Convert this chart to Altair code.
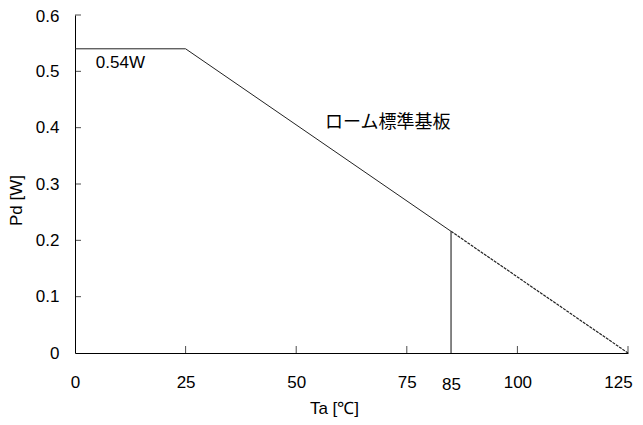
import altair as alt
import pandas as pd

# Derating curve
solid_x = [0, 25, 85]
solid_y = [0.54, 0.54, 0.216]
dash_x = [85, 125]
dash_y = [0.216, 0.0]
vline_x = [85]
vline_y = [0.216]

x_ticks = [25, 50, 75, 100, 125]
x_labels = [0, 25, 50, 75, 85, 100, 125]
y_ticks = [0.1, 0.2, 0.3, 0.4, 0.5, 0.6]
y_labels = [0, 0.1, 0.2, 0.3, 0.4, 0.5, 0.6]

ann_text = ["0.54W", "ローム標準基板"]
ann_x = [4.7, 56.5]
ann_y = [0.506, 0.408]

FONT = "Liberation Sans"
CJK = "Noto Sans CJK JP"
FS = 17

xs = alt.Scale(domain=[0, 125], nice=False, zero=False)
ys = alt.Scale(domain=[0, 0.6], nice=False)

solid = pd.DataFrame({"x": solid_x, "y": solid_y})
dash = pd.DataFrame({"x": dash_x, "y": dash_y})
vline = pd.DataFrame({"x": vline_x, "y": vline_y, "y0": [0.0]})
xt = pd.DataFrame({"x": x_ticks, "y": [0.0] * len(x_ticks)})
yt = pd.DataFrame({"x": [0.0] * len(y_ticks), "y": y_ticks})

xaxis = alt.Axis(
    values=x_labels, ticks=False, grid=False, domainColor="#000", domainWidth=1,
    labelFont=FONT, labelFontSize=FS, labelColor="#000",
    labelPadding=alt.ExprRef(expr="datum.value == 85 ? 31 : 29"),
    labelOffset=alt.ExprRef(expr="datum.value == 125 ? -10 : 0"),
    labelAngle=0, labelBaseline="middle", labelFlush=False, labelOverlap=False,
    title="Ta [℃]", titleFont=FONT, titleFontSize=FS, titleFontWeight="normal",
    titleColor="#000", titleX=259, titleY=55, titleBaseline="middle", titleAlign="center",
)
yaxis = alt.Axis(
    values=y_labels, ticks=False, grid=False,
    domainColor="#000", domainWidth=1,
    labelFont=FONT, labelFontSize=FS, labelColor="#000", labelPadding=16,
    labelFlush=False, labelOverlap=False,
    labelOffset=alt.ExprRef(expr="datum.value == 0.6 ? 1 : 0"),
    format="~g",
    title="Pd [W]", titleFont=FONT, titleFontSize=FS, titleFontWeight="normal",
    titleColor="#000", titleX=-59, titleY=185, titleAngle=270,
    titleBaseline="middle", titleAlign="center",
)

base_line = alt.Chart(solid).mark_line(color="#222", strokeWidth=1).encode(
    x=alt.X("x:Q", scale=xs, axis=xaxis),
    y=alt.Y("y:Q", scale=ys, axis=yaxis),
)
dash_line = alt.Chart(dash).mark_line(color="#222", strokeWidth=1.2, strokeDash=[3, 1]).encode(
    x=alt.X("x:Q", scale=xs), y=alt.Y("y:Q", scale=ys)
)
vrule = alt.Chart(vline).mark_rule(color="#444", strokeWidth=1.3).encode(
    x=alt.X("x:Q", scale=xs), y=alt.Y("y0:Q", scale=ys), y2="y:Q"
)
xtick = alt.Chart(xt).mark_tick(orient="vertical", size=7, thickness=1, yOffset=-3.5, color="#000").encode(
    x=alt.X("x:Q", scale=xs), y=alt.Y("y:Q", scale=ys)
)
ytick = alt.Chart(yt).mark_tick(orient="horizontal", size=6, thickness=1, xOffset=3, color="#000").encode(
    x=alt.X("x:Q", scale=xs), y=alt.Y("y:Q", scale=ys)
)
ann = pd.DataFrame({"t": ann_text, "x": ann_x, "y": ann_y})
t1 = alt.Chart(ann.iloc[[0]]).mark_text(align="left", baseline="alphabetic", font=FONT, fontSize=FS, color="#000").encode(
    x=alt.X("x:Q", scale=xs), y=alt.Y("y:Q", scale=ys), text="t:N"
)
t2 = alt.Chart(ann.iloc[[1]]).mark_text(align="left", baseline="middle", font=CJK, fontSize=18, color="#000").encode(
    x=alt.X("x:Q", scale=xs), y=alt.Y("y:Q", scale=ys), text="t:N"
)

chart = alt.layer(base_line, dash_line, vrule, xtick, ytick, t1, t2).properties(
    width=553, height=338,
    autosize=alt.AutoSizeParams(type="none"),
    padding={"left": 67, "top": 7, "right": 7, "bottom": 64},
    background="white",
).configure_view(stroke=None)

chart.save("out.html", embed_options={"renderer": "svg", "actions": False})
